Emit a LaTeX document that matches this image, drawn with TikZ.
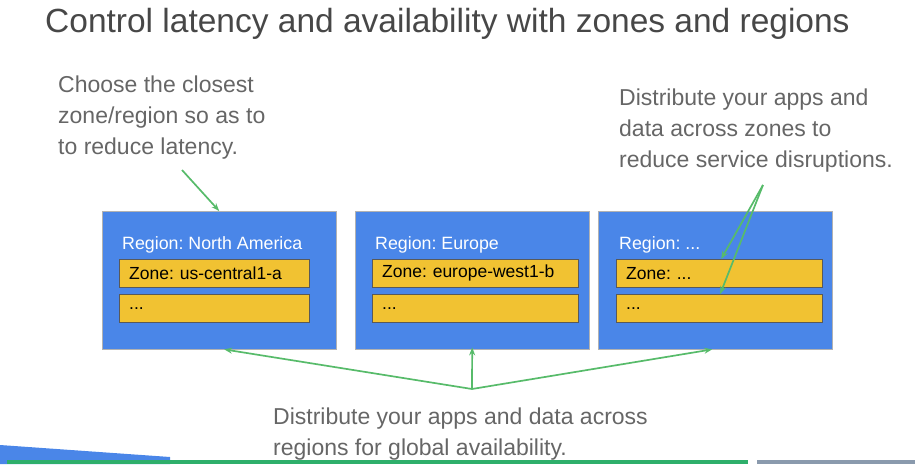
\documentclass[tikz,border=0pt]{standalone}
\usepackage{fontspec}
\setmainfont{Liberation Sans}
\usetikzlibrary{arrows.meta}

\definecolor{gblue}{HTML}{4A86E8}
\definecolor{gyellow}{HTML}{F1C232}
\definecolor{ggreen}{HTML}{57BB6A}
\definecolor{ggray}{HTML}{666666}
\definecolor{gbar}{HTML}{2EAF6B}
\definecolor{gslate}{HTML}{8A9AAD}

\tikzset{
    regionbox/.style={draw=gray!60, fill=gblue, minimum width=234pt, minimum height=138pt, anchor=north west, inner sep=0pt},
    zonebox/.style={draw=gray!70!black, fill=gyellow, minimum width=190pt, minimum height=28pt, anchor=north west, inner ysep=0pt, inner xsep=10pt, text width=170pt, align=left, font=\fontsize{17.5}{19}\selectfont},
    widezone/.style={zonebox, minimum width=206pt, text width=186pt},
    regionlabel/.style={anchor=west, text=white, inner sep=0pt, font=\fontsize{17.8}{19}\selectfont},
    note/.style={anchor=north west, align=left, text=ggray, inner sep=0pt, font=\fontsize{23}{31}\selectfont},
    greenarrow/.style={ggreen, line width=1.7pt, -{Stealth[length=8pt,width=6pt]}}
}

\begin{document}
\frenchspacing
\begin{tikzpicture}[x=1pt, y=-1pt]
        \useasboundingbox (0,0) rectangle (922,464);

        % Title
        \node[anchor=west, inner sep=0pt, text=black!72, font=\fontsize{33.5}{36}\selectfont] (title) at (45,24) {Control latency and availability with zones and regions};

        % Notes
        \node[note] (latency) at (58,76) {Choose the closest\\zone/region so as to\\to reduce latency.};
        \node[note] (zones) at (619,89) {Distribute your apps and\\data across zones to\\reduce service disruptions.};
        \node[note] (global) at (273,408) {Distribute your apps and data across\\regions for global availability.};

        % Regions
        \node[regionbox] (na) at (102,211) {};
        \node[regionbox] (eu) at (355,211) {};
        \node[regionbox] (other) at (598,211) {};

        \node[regionlabel] (nalabel) at (122,245) {Region: North America};
        \node[regionlabel] (eulabel) at (375,245) {Region: Europe};
        \node[regionlabel] (otherlabel) at (619,245) {Region: ...};

        % Zones
        \node[zonebox] (naza) at (119,259) {Zone: us-central1-a};
        \node[zonebox] (nazb) at (119,294) {...};
        \node[widezone] (euza) at (372,259) {Zone: europe-west1-b};
        \node[widezone] (euzb) at (372,294) {...};
        \node[widezone] (otherza) at (616,259) {Zone: ...};
        \node[widezone] (otherzb) at (616,294) {...};

        % Arrows
        \coordinate (latencytail) at (182,170);
        \coordinate (zonestail) at (763,185);
        \coordinate (globaltail) at (472,389);

        \draw[greenarrow] (latencytail) -- (na.north);
        \draw[greenarrow] (zonestail) -- ([xshift=2pt]otherza.north);
        \draw[greenarrow] (zonestail) -- ([xshift=1pt]otherzb.north);
        \draw[greenarrow] (globaltail) -- ([xshift=5pt]na.south);
        \draw[greenarrow] (globaltail) -- ([yshift=2pt]eu.south);
        \draw[greenarrow] (globaltail) -- ([xshift=-3pt]other.south);

        % Footer
        \fill[gblue] (0,445) -- (170,457) -- (170,464) -- (0,464) -- cycle;
        \fill[gbar] (7,460) rectangle (748,464);
        \fill[gslate] (757,460) rectangle (915,464);
\end{tikzpicture}
\end{document}
